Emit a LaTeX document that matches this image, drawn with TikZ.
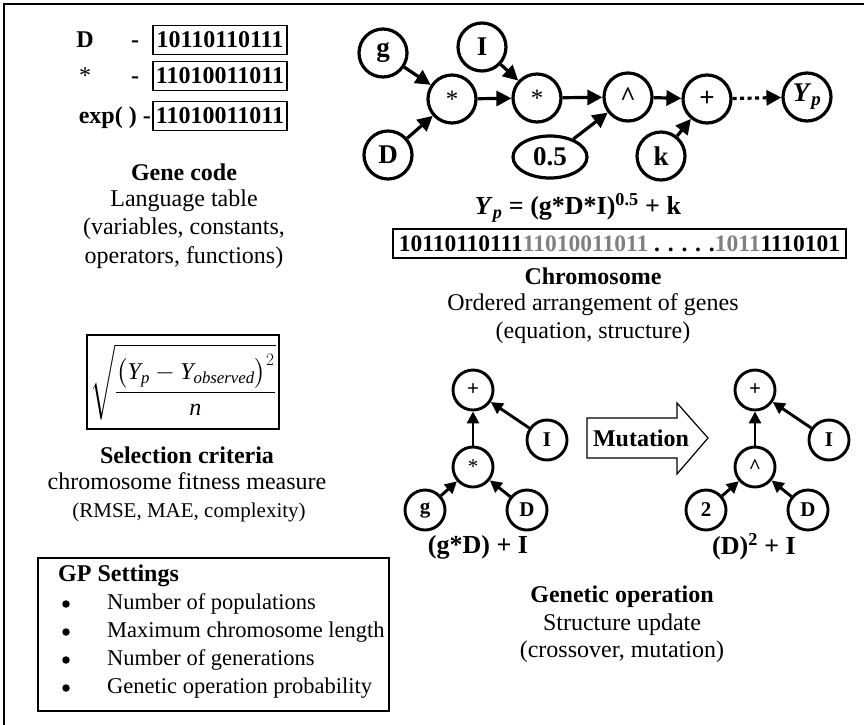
\documentclass[tikz,border=0pt]{standalone}
\usepackage{amsmath}
\usepackage{fontspec}
\setmainfont{Liberation Serif}
\usetikzlibrary{arrows.meta,shapes.geometric}

\tikzset{
  fs/.style={font=\fontsize{#1}{#1}\selectfont},
  bfs/.style={font=\fontsize{#1}{#1}\selectfont\bfseries},
  txt/.style={inner sep=0pt, align=center},
  genebox/.style={draw, line width=1.8pt, inner sep=0pt, minimum width=134pt, minimum height=29pt,
                  font=\fontsize{24}{24}\selectfont\bfseries},
  bignode/.style={circle, draw, line width=3.2pt, minimum size=48pt, inner sep=0pt,
                  font=\fontsize{27}{27}\selectfont\bfseries},
  smallnode/.style={circle, draw, line width=2.9pt, minimum size=40pt, inner sep=0pt,
                  font=\fontsize{21}{21}\selectfont\bfseries},
  bigarrow/.style={line width=3.2pt, -{Triangle[length=15pt,width=15pt]}},
  smallarrow/.style={line width=2.9pt, -{Triangle[length=12pt,width=12pt]}},
  bulletdot/.style={circle, fill, inner sep=0pt, minimum size=7.5pt},
}

\begin{document}
\begin{tikzpicture}[x=1pt,y=-1pt]
\useasboundingbox (0,0) rectangle (864,724);

% outer frame (runs off the page on the right and at the bottom)
\draw[line width=2.2pt] (4,740) -- (4,4) -- (880,4);

% ---------------- gene code table ----------------
\node[genebox] (bD) at (220,40) {10110110111};
\node[genebox] (bM) at (220,76) {11010011011};
\node[genebox] (bE) at (220,116) {11010011011};
\node[txt, bfs=24, anchor=base] (tD) at (85,0 |- bD.base) {D};
\node[txt, bfs=24, anchor=base] (sD) at (135,0 |- bD.base) {-};
\node[txt, fs=24, anchor=base]  (tM) at (85,0 |- bM.base) {*};
\node[txt, bfs=24, anchor=base] (sM) at (135,0 |- bM.base) {-};
\node[txt, bfs=24, anchor=base east] (tE) at (151,0 |- bE.base) {exp( ) -};

\node[txt, bfs=24] (gc1) at (184,172) {Gene code};
\node[txt, fs=24]  (gc2) at (184,201) {Language table};
\node[txt, fs=24]  (gc3) at (184,229) {(variables, constants,};
\node[txt, fs=24]  (gc4) at (184,258) {operators, functions)};

% ---------------- expression tree ----------------
\node[bignode] (g)  at (383,53) {g};
\node[bignode] (D)  at (388,155) {D};
\node[bignode] (m1) at (452,99) {\mdseries\fontsize{25}{25}\selectfont *};
\node[bignode] (I)  at (482,47) {I};
\node[bignode] (m2) at (537,98) {\mdseries\fontsize{25}{25}\selectfont *};
\node[bignode] (pw) at (628,97) {\^{}};
\node[bignode, ellipse, minimum width=74pt, minimum height=42pt] (c5) at (550,157) {0.5};
\node[bignode] (pl) at (707,99) {+};
\node[bignode] (k)  at (661,156) {k};
\node[bignode] (Y)  at (807,97) {\textit{Y}\textsubscript{\textit{p}}};

\draw[bigarrow] (g) -- (m1);
\draw[bigarrow] (D) -- (m1);
\draw[bigarrow] (m1) -- (m2);
\draw[bigarrow] (I) -- (m2);
\draw[bigarrow] (m2) -- (pw);
\draw[bigarrow] (c5) -- (pw);
\draw[bigarrow] (pw) -- (pl);
\draw[bigarrow] (k) -- (pl);
\draw[bigarrow, dash pattern=on 4pt off 3.5pt] (pl) -- (Y);

\node[txt, bfs=26] (eq) at (578,208)
  {\textit{Y}\textsubscript{\textit{p}} = (g*D*I)\textsuperscript{0.5} + k};

% ---------------- chromosome ----------------
\node[draw, line width=1.8pt, inner sep=0pt, minimum width=453pt, minimum height=29pt,
      bfs=23.5] (chr) at (619.5,243.5)
  {10110110111\textcolor{black!50}{11010011011} . . . . .\textcolor{black!50}{1011}1110101};

\node[txt, bfs=24] (ch1) at (593,276) {Chromosome};
\node[txt, fs=24]  (ch2) at (593,305) {Ordered arrangement of genes};
\node[txt, fs=24]  (ch3) at (593,333) {(equation, structure)};

% ---------------- selection criteria ----------------
\draw[line width=1.8pt] (87,335) rectangle (279,429);
\node[txt, fs=24] (fit) at (183,382)
  {$\displaystyle\sqrt{\frac{\bigl(\textit{Y}_{\textit{p}}-\textit{Y}_{\textit{observed}}\bigr)^{2}}{\textit{n}}}$};

\node[txt, bfs=24] (sc1) at (187,455) {Selection criteria};
\node[txt, fs=24]  (sc2) at (187,481) {chromosome fitness measure};
\node[txt, fs=21]  (sc3) at (189,512) {(RMSE, MAE, complexity)};

% ---------------- GP settings ----------------
\draw[line width=1.8pt] (38,558) rectangle (389,711);
\node[txt, bfs=24, anchor=west] (gp0) at (58,576) {GP Settings};
\foreach \y/\t [count=\i] in {604/Number of populations, 632/Maximum chromosome length,
                              660/Number of generations, 688/Genetic operation probability} {
  \node[bulletdot] (gpb\i) at (66,\y) {};
  \node[txt, fs=22.5, anchor=west] (gp\i) at (107,\y) {\t};
}

% ---------------- genetic operation ----------------
\node[smallnode] (lp) at (473,390) {+};
\node[smallnode] (lI) at (547,440) {I};
\node[smallnode] (lm) at (473,467) {\mdseries *};
\node[smallnode] (lg) at (425,510) {g};
\node[smallnode] (lD) at (527,510) {D};
\draw[smallarrow] (lm) -- (lp);
\draw[smallarrow] (lI) -- (lp);
\draw[smallarrow] (lg) -- (lm);
\draw[smallarrow] (lD) -- (lm);

\node[smallnode] (rp) at (755,390) {+};
\node[smallnode] (rI) at (829,440) {I};
\node[smallnode] (rc) at (755,467) {\^{}};
\node[smallnode] (r2) at (706,510) {2};
\node[smallnode] (rD) at (808,510) {D};
\draw[smallarrow] (rc) -- (rp);
\draw[smallarrow] (rI) -- (rp);
\draw[smallarrow] (r2) -- (rc);
\draw[smallarrow] (rD) -- (rc);

% block arrow for the mutation step
\draw[line width=1.2pt, fill=white]
  (587,418) -- (677,418) -- (677,403) -- (708,438) -- (677,474) -- (677,458) -- (587,458) -- cycle;
\node[txt, bfs=24] (mut) at (641,438) {Mutation};

\node[txt, bfs=26] (le) at (478,547) {(g*D) + I};
\node[txt, bfs=26] (re) at (754,547) {(D)\textsuperscript{2} + I};

\node[txt, bfs=24] (go1) at (622,597) {Genetic operation};
\node[txt, fs=24]  (go2) at (622,625) {Structure update};
\node[txt, fs=24]  (go3) at (622,652) {(crossover, mutation)};
\end{tikzpicture}
\end{document}
